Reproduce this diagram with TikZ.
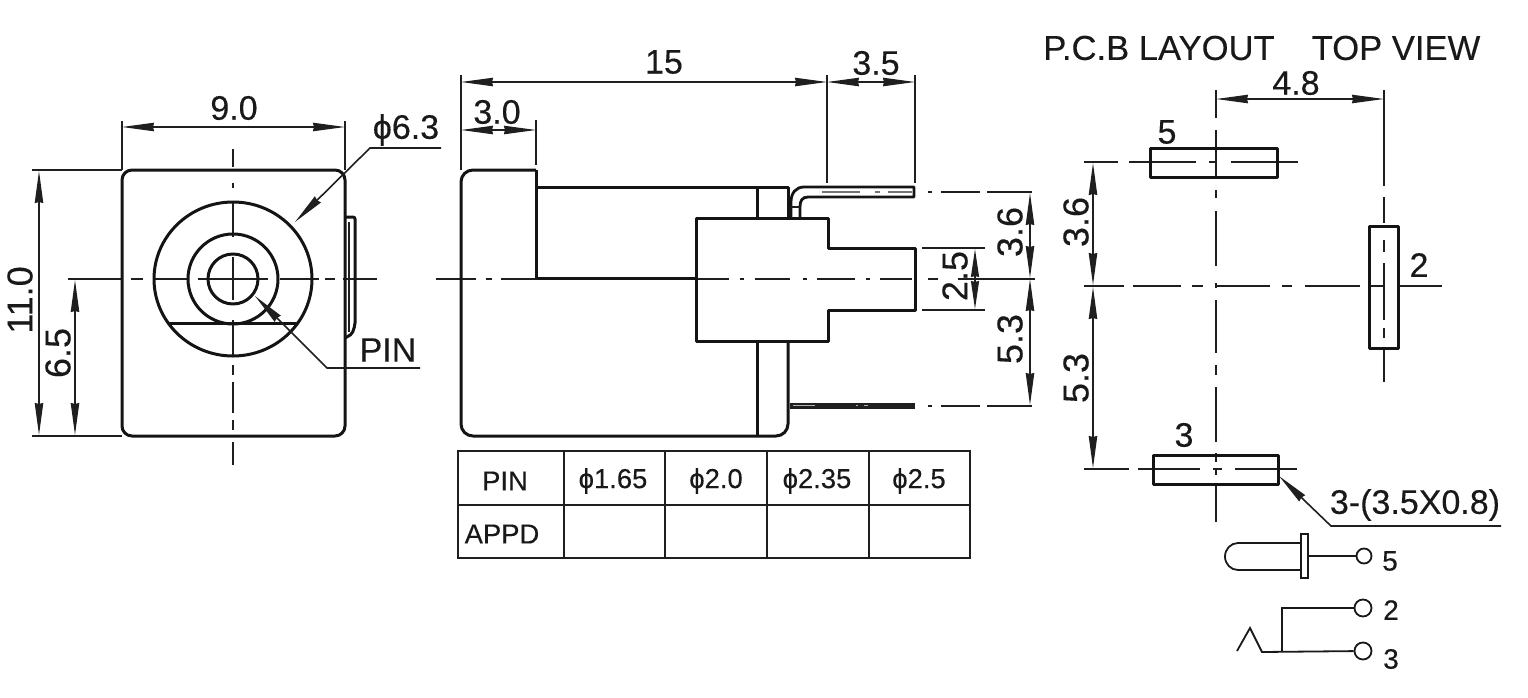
\documentclass[tikz,border=0pt]{standalone}
\usepackage{fontspec}
\setmainfont{Liberation Sans}[BoldFont=Liberation Sans,BoldFeatures={FakeBold=0.25}]
\usetikzlibrary{arrows.meta}
\tikzset{
  tipL/.tip={Stealth[length=16pt,width=4.2pt,inset=0.5pt]},
  tipS/.tip={Stealth[length=14pt,width=4pt,inset=0.5pt]},
  obj/.style={line width=1.5pt,line join=round,black!92},
  thin line/.style={line width=0.7pt,black!88},
  dim/.style={line width=0.7pt,black!88,tipL-tipL},
  short dim/.style={line width=0.7pt,black!88,tipS-tipS},
  half left/.style={line width=0.7pt,black!88,tipL-},
  half right/.style={line width=0.7pt,black!88,-tipL},
  leader/.style={line width=0.8pt,black!88,tipL-},
  lab/.style={inner sep=0pt,font=\fontsize{17}{18}\selectfont\bfseries,black!90},
  rlab/.style={inner sep=0pt,font=\fontsize{18}{18}\selectfont\bfseries,black!90,rotate=90},
  cell/.style={inner sep=0pt,font=\fontsize{13.7}{15}\selectfont\bfseries,black!90},
  term/.style={inner sep=0pt,font=\fontsize{14}{15}\selectfont\bfseries,black!90},
  head/.style={inner sep=0pt,font=\fontsize{17.3}{20}\selectfont\bfseries,black!90},
  symb/.style={line width=0.9pt,black!90},
  termcirc/.style={draw=black!90,line width=0.9pt,circle,inner sep=0pt}
}
\newcommand{\hsegs}[2]{\foreach \a/\b in {#2} \draw[thin line] (\a,#1) -- (\b,#1);}
\newcommand{\vsegs}[2]{\foreach \a/\b in {#2} \draw[thin line] (#1,\a) -- (#1,\b);}
\begin{document}
\begin{tikzpicture}[x=0.5pt,y=-0.5pt]
\useasboundingbox (0,0) rectangle (1528,697);
\fill[white] (0,0) rectangle (1528,697);

%% ---------- centre lines first, so that outlines lie on top
\hsegs{279}{68/122,131/143,154/187,198/268,280/319,325/335,343/377}
\hsegs{279}{436/476,486/492,501/536,696/729,740/744,755/790,803/807,817/855,866/870,880/912,928/938,958/1035}
\vsegs{233}{149/167,183/188,202/237,257/300,320/355,365/375,382/413,420/430,442/465}

%% ---------- front view
\draw[obj,rounded corners=5pt] (122,170) rectangle (345,436);
\draw[obj,rounded corners=1pt] (345,217) -- (355,217) -- (355,325) -- (352,334) -- (345,338);
\draw[thin line] (349,222) -- (349,332);
\draw[obj] (233,279) ellipse (79 and 77);
\draw[obj] (233,279) circle (45);
\draw[obj] (233,279) circle (25);
\draw[obj] (168,323) -- (297,323);
% dimensions
\coordinate (fTL) at (122,127); \coordinate (fTR) at (345,127);
\draw[thin line] (122,121) -- (122,170);
\draw[thin line] (345,121) -- (345,170);
\draw[dim] (fTL) -- (fTR);
\node[lab] (d90) at (234,108) {9.0};
\draw[thin line] (32,170) -- (122,170);
\draw[thin line] (32,436) -- (122,436);
\draw[dim] (39,171) -- (39,435);
\node[rlab] (d110) at (20,300) {11.0};
\draw[dim] (75,280) -- (75,435);
\node[rlab] (d65) at (58,353) {6.5};
\draw[leader] (295,222) -- (370,148) -- (441,148);
\node[lab] (dphi) at (406,130) {ϕ6.3};
\draw[leader] (255,296) -- (327,368) -- (420,368);
\node[lab] (dpin) at (388,350) {PIN};

%% ---------- side view
\draw[obj,rounded corners=6pt] (536,170) -- (461,170) -- (461,436) -- (788,436) -- (788,341);
\draw[obj] (536,170) -- (536,278) -- (696,278);
\draw[obj] (536,187) -- (788,187) -- (788,218);
\draw[obj] (757,187) -- (757,218);
\draw[obj] (757,341) -- (757,436);
\draw[obj] (696,218) -- (828,218) -- (828,248) -- (915,248) -- (915,310) -- (828,310) -- (828,341) -- (696,341) -- cycle;
% upper pin
\draw[line width=1.4pt,black!92,line join=round] (791,218) -- (791,202) .. controls (791,193) and (796,187) .. (804,187) -- (914,187) -- (914,197) -- (808,197) .. controls (802,197) and (800,201) .. (800,207) -- (800,218);
\draw[thin line] (791,207) -- (800,207);
\draw[line width=0.8pt,black!55] (822,192) -- (860,192) (875,192) -- (880,192) (888,192) -- (912,192);
% lower pin
\fill[black!88] (790,403) rectangle (915,409);
\draw[line width=0.5pt,black!30] (793,405) -- (815,405) (856,405) -- (858,405) (864,405) -- (868,405);
% dimensions
\draw[thin line] (461,75) -- (461,170);
\draw[thin line] (827,75) -- (827,183);
\draw[thin line] (915,75) -- (915,183);
\draw[thin line] (536,120) -- (536,165);
\draw[dim] (461,82) -- (827,82);
\node[lab] (d15) at (664,62) {15};
\draw[half left] (827,82) -- (871,82);
\draw[half right] (871,82) -- (915,82);
\node[lab] (d35) at (876,63) {3.5};
\draw[half left] (461,130) -- (498,130);
\draw[half right] (498,130) -- (536,130);
\node[lab] (d30) at (497,112) {3.0};
\hsegs{192}{928/932,941/980,987/1032}
\hsegs{406}{928/932,941/980,987/1032}
\draw[thin line] (922,248) -- (985,248);
\draw[thin line] (922,310) -- (985,310);
\draw[dim] (1030,193) -- (1030,278);
\draw[dim] (1030,279) -- (1030,405);
\draw[short dim] (975,249) -- (975,309);
\node[rlab] (d36) at (1010,232) {3.6};
\node[rlab] (d25) at (955,276) {2.5};
\node[rlab] (d53) at (1010,339) {5.3};

%% ---------- table
\draw[line width=0.9pt,black!88] (458,451) rectangle (970,558);
\draw[line width=0.9pt,black!88] (458,505) -- (970,505);
\foreach \cx in {564,665,767,869} \draw[line width=0.9pt,black!88] (\cx,451) -- (\cx,558);
\node[cell] (t1) at (505,481) {PIN};
\node[cell] (t2) at (613,481) {ϕ1.65};
\node[cell] (t3) at (716,481) {ϕ2.0};
\node[cell] (t4) at (817,481) {ϕ2.35};
\node[cell] (t5) at (919,481) {ϕ2.5};
\node[cell] (t6) at (502,534) {APPD};

%% ---------- PCB layout
\node[head] (hpcb) at (1159,48) {P.C.B LAYOUT};
\node[head] (htop) at (1396,48) {TOP VIEW};
\hsegs{162}{1084/1118,1129/1196,1209/1216,1231/1298}
\hsegs{286}{1084/1124,1133/1181,1192/1203,1216/1270,1282/1292,1305/1360,1369/1384,1397/1442}
\hsegs{469}{1084/1129,1138/1200,1213/1222,1235/1297}
\vsegs{1216}{90/118,130/177,190/198,211/266,283/288,300/353,365/375,387/442,453/462,470/475,483/522}
\vsegs{1384}{90/186,197/223,240/252,263/320,328/338,348/382}
\draw[obj] (1150,148) rectangle (1277,177);
\draw[obj] (1369,226) rectangle (1398,348);
\draw[obj] (1153,455) rectangle (1278,484);
\draw[dim] (1216,99) -- (1384,99);
\node[lab] (d48) at (1296,83) {4.8};
\draw[dim] (1093,163) -- (1093,285);
\draw[dim] (1093,287) -- (1093,468);
\node[rlab] (d36b) at (1076,222) {3.6};
\node[rlab] (d53b) at (1076,378) {5.3};
\node[lab] (p5) at (1167,132) {5};
\node[lab] (p2) at (1419,265) {2};
\node[lab] (p3) at (1184,435) {3};
\draw[leader] (1279,476) -- (1331,526) -- (1501,526);
\node[lab] (dpad) at (1415,505) {3-(3.5X0.8)};

%% ---------- schematic
\draw[symb] (1301,543) -- (1238,543) arc[start angle=270,end angle=90,x radius=13,y radius=13.5] -- (1301,570);
\draw[symb] (1301,534) rectangle (1308,578);
\node[termcirc,minimum size=7.5pt] (c5) at (1364,556) {};
\draw[symb] (1308,556) -- (c5);
\node[term] (s5) at (1390,561) {5};
\node[termcirc,minimum size=8.5pt] (c2) at (1363,608) {};
\node[termcirc,minimum size=8.5pt] (c3) at (1363,651) {};
\draw[symb] (c2) -- (1282,608) -- (1282,652);
\draw[symb] (c3) -- (1262,652) -- (1250,628) -- (1237,651);
\node[term] (s2) at (1391,610) {2};
\node[term] (s3) at (1391,659) {3};
\end{tikzpicture}
\end{document}
